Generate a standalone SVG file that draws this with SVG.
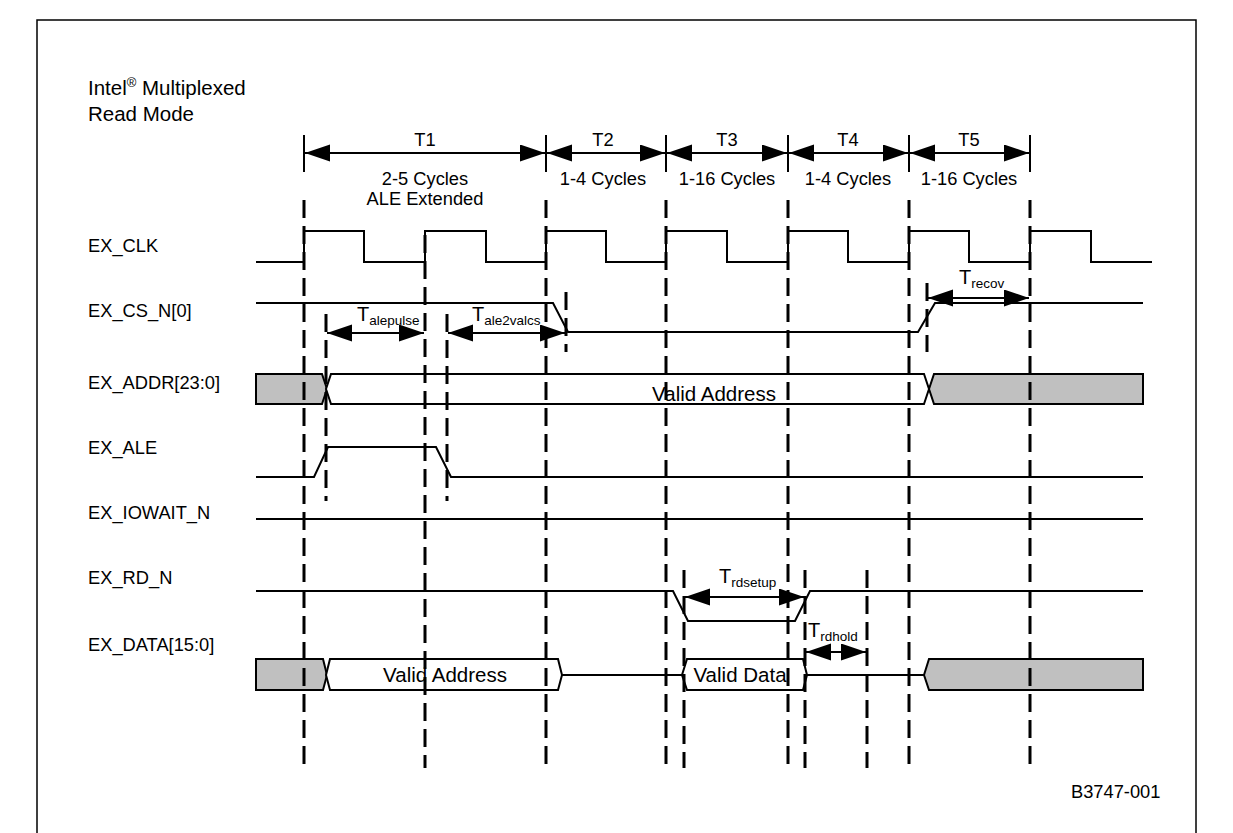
<svg xmlns="http://www.w3.org/2000/svg" width="1233" height="833" viewBox="0 0 1233 833">
<style>
text{font-family:"Liberation Sans",Arial,sans-serif;fill:#000}
.lbl{font-size:18.3px}
.ttl{font-size:20.5px}
.ctr{text-anchor:middle}
.sig{fill:none;stroke:#000;stroke-width:2;stroke-linejoin:miter}
.bus{stroke:#000;stroke-width:2}
.g{fill:#c0c0c0}
.w{fill:#fff}
.dash{stroke:#000;stroke-width:3;stroke-dasharray:18 8;fill:none}
.tick{stroke:#000;stroke-width:2}
.arr{stroke:#000;stroke-width:2;marker-start:url(#ah);marker-end:url(#ah)}
.big{font-size:20px}
.sub{font-size:13.5px}
</style>
<defs>
<marker id="ah" markerUnits="userSpaceOnUse" markerWidth="27" markerHeight="18" refX="25" refY="8.5" orient="auto-start-reverse"><path d="M0,0 L25,8.5 L0,17 z" fill="#000"/></marker>
</defs>
<rect x="37" y="20" width="1159" height="840" fill="none" stroke="#000" stroke-width="1.5"/>
<g id="title">
<text class="ttl" x="88" y="95">Intel<tspan font-size="13" dy="-8">®</tspan><tspan dy="8"> Multiplexed</tspan></text>
<text class="ttl" x="88" y="121">Read Mode</text>
</g>
<g id="labels">
<text class="lbl" x="88" y="252">EX_CLK</text>
<text class="lbl" x="88" y="317">EX_CS_N[0]</text>
<text class="lbl" x="88" y="389">EX_ADDR[23:0]</text>
<text class="lbl" x="88" y="454">EX_ALE</text>
<text class="lbl" x="88" y="519">EX_IOWAIT_N</text>
<text class="lbl" x="88" y="584">EX_RD_N</text>
<text class="lbl" x="88" y="651">EX_DATA[15:0]</text>
<text class="lbl" x="1071" y="798">B3747-001</text>
</g>
<g id="phases">
<line class="tick" x1="304" y1="135" x2="304" y2="172"/>
<line class="tick" x1="546" y1="135" x2="546" y2="172"/>
<line class="tick" x1="666" y1="135" x2="666" y2="172"/>
<line class="tick" x1="788" y1="135" x2="788" y2="172"/>
<line class="tick" x1="909" y1="135" x2="909" y2="172"/>
<line class="tick" x1="1030" y1="135" x2="1030" y2="172"/>
<line class="arr" x1="305" y1="153" x2="545" y2="153"/>
<line class="arr" x1="547" y1="153" x2="665" y2="153"/>
<line class="arr" x1="667" y1="153" x2="787" y2="153"/>
<line class="arr" x1="789" y1="153" x2="908" y2="153"/>
<line class="arr" x1="910" y1="153" x2="1029" y2="153"/>
<text class="lbl ctr" x="425" y="146">T1</text>
<text class="lbl ctr" x="425" y="185">2-5 Cycles</text>
<text class="lbl ctr" x="425" y="205">ALE Extended</text>
<text class="lbl ctr" x="603" y="146">T2</text>
<text class="lbl ctr" x="603" y="185">1-4 Cycles</text>
<text class="lbl ctr" x="727" y="146">T3</text>
<text class="lbl ctr" x="727" y="185">1-16 Cycles</text>
<text class="lbl ctr" x="848" y="146">T4</text>
<text class="lbl ctr" x="848" y="185">1-4 Cycles</text>
<text class="lbl ctr" x="969" y="146">T5</text>
<text class="lbl ctr" x="969" y="185">1-16 Cycles</text>
</g>
<g id="ex_clk">
<polyline class="sig" points="256,262 304,262 304,231 364,231 364,262 425,262 425,231 486,231 486,262 546,262 546,231 606,231 606,262 666,262 666,231 727,231 727,262 788,262 788,231 848,231 848,262 909,262 909,231 969,231 969,262 1030,262 1030,231 1091,231 1091,262 1152,262"/>
</g>
<g id="ex_cs_n">
<polyline class="sig" points="256,303 553,303 568,332 918,332 935,303 1143,303"/>
</g>
<g id="ex_addr">
<polygon class="bus g" points="256,374 322,374 327,389 322,404 256,404"/>
<polygon class="bus w" points="331,374 924,374 929,389 924,404 331,404 326,389"/>
<polygon class="bus g" points="1143,374 934,374 929,389 934,404 1143,404"/>
<text class="ttl ctr" x="714" y="401">Valid Address</text>
</g>
<g id="ex_ale">
<polyline class="sig" points="256,477 314,477 328,447 436,447 451,477 1143,477"/>
</g>
<g id="ex_iowait_n">
<line class="sig" x1="256" y1="519" x2="1143" y2="519"/>
</g>
<g id="ex_rd_n">
<polyline class="sig" points="256,591 673,591 688,621 795,621 810,591 1143,591"/>
</g>
<g id="ex_data">
<polygon class="bus g" points="256,659 323,659 327,675 323,690 256,690"/>
<polygon class="bus w" points="330,659 558,659 562,675 558,690 330,690 326,675"/>
<line class="sig" x1="562" y1="675" x2="682" y2="675"/>
<polygon class="bus w" points="687,659 803,659 807,675 803,690 687,690 682,675"/>
<line class="sig" x1="807" y1="675" x2="924" y2="675"/>
<polygon class="bus g" points="1143,659 929,659 924,675 929,690 1143,690"/>
<text class="ttl ctr" x="445" y="682">Valid Address</text>
<text class="ttl ctr" x="740" y="682">Valid Data</text>
</g>
<g id="timings">
<line class="arr" x1="327" y1="333" x2="424" y2="333"/>
<line class="arr" x1="448" y1="333" x2="565" y2="333"/>
<line class="arr" x1="928" y1="298" x2="1029" y2="298"/>
<line class="arr" x1="685" y1="597" x2="804" y2="597"/>
<line class="arr" x1="806" y1="652" x2="866" y2="652"/>
<text class="big" x="357" y="321">T<tspan class="sub" dy="4">alepulse</tspan></text>
<text class="big" x="472" y="321">T<tspan class="sub" dy="4">ale2valcs</tspan></text>
<text class="big" x="959" y="284">T<tspan class="sub" dy="4">recov</tspan></text>
<text class="big" x="719" y="583">T<tspan class="sub" dy="4">rdsetup</tspan></text>
<text class="big" x="808" y="637">T<tspan class="sub" dy="4">rdhold</tspan></text>
</g>
<g id="connectors">
<line class="dash" x1="304" y1="200" x2="304" y2="768"/>
<line class="dash" x1="425" y1="235" x2="425" y2="768"/>
<line class="dash" x1="546" y1="200" x2="546" y2="768"/>
<line class="dash" x1="666" y1="200" x2="666" y2="768"/>
<line class="dash" x1="788" y1="200" x2="788" y2="768"/>
<line class="dash" x1="909" y1="200" x2="909" y2="768"/>
<line class="dash" x1="1030" y1="200" x2="1030" y2="768"/>
<line class="dash" x1="326" y1="314" x2="326" y2="501"/>
<line class="dash" x1="447" y1="314" x2="447" y2="501"/>
<line class="dash" x1="566" y1="292" x2="566" y2="352"/>
<line class="dash" x1="927" y1="283" x2="927" y2="352"/>
<line class="dash" x1="684" y1="570" x2="684" y2="768"/>
<line class="dash" x1="805" y1="570" x2="805" y2="768"/>
<line class="dash" x1="867" y1="570" x2="867" y2="768"/>
</g>
</svg>
